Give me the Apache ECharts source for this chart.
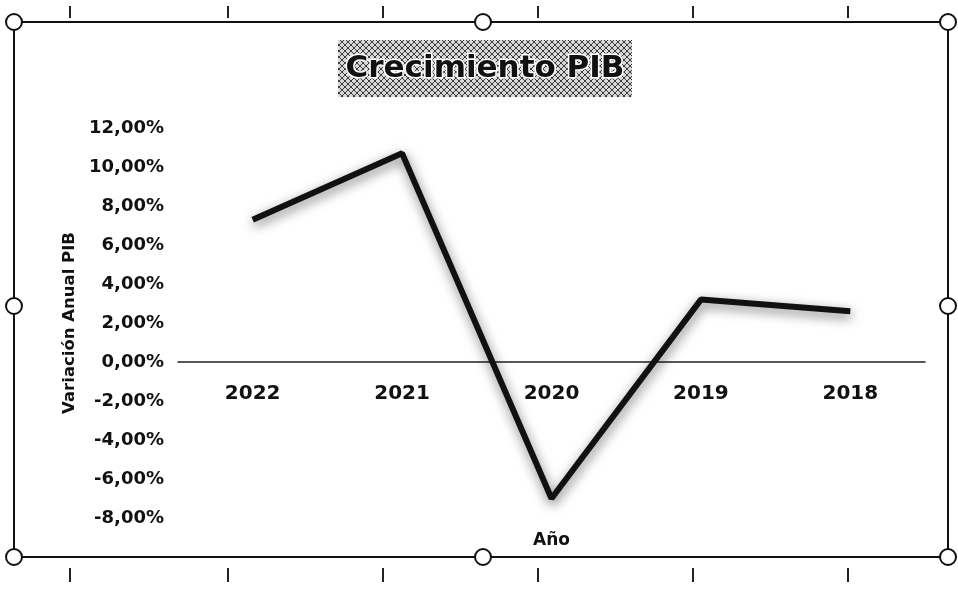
<!DOCTYPE html>
<html>
<head>
<meta charset="utf-8">
<script src="https://cdn.jsdelivr.net/npm/echarts@6/dist/echarts.min.js"></script>
<style>
html, body { margin: 0; padding: 0; background: #fff; }
#chart { width: 958px; height: 603px; }
</style>
</head>
<body>
<div id="chart"></div>
<script>
// datos
const years = ['2022', '2021', '2020', '2019', '2018'];
const growth = [7.3, 10.7, -7.0, 3.2, 2.6];
const yMin = -8, yMax = 12, yStep = 2;

const font = "'DejaVu Sans', sans-serif";

// geometría del área de trazado
const gridTop = 128, gridBottom = 85, chartH = 603;
const plotH = chartH - gridTop - gridBottom;
// desplazamiento del eje X para que quede sobre el cero (etiquetas incluidas)
const zeroOffset = -plotH * (0 - yMin) / (yMax - yMin);

// trama cuadriculada del título
function hatch() {
    const c = document.createElement('canvas');
    c.width = 6; c.height = 6;
    const g = c.getContext('2d');
    g.fillStyle = '#d8d8d8';
    g.fillRect(0, 0, 6, 6);
    g.strokeStyle = '#3a3a3a';
    g.lineWidth = 1;
    g.beginPath();
    g.moveTo(0, 0); g.lineTo(6, 6);
    g.moveTo(6, 0); g.lineTo(0, 6);
    g.stroke();
    return c;
}

const chart = echarts.init(document.getElementById('chart'));

// marco con tiradores (selección de Excel)
const handles = [[14, 22], [483, 22], [948, 22], [14, 306], [948, 306], [14, 557], [483, 557], [948, 557]];
const ticksX = [70, 228, 383, 538, 693, 848];
let frame = [
    { type: 'rect', shape: { x: 14, y: 22, width: 934, height: 535 }, style: { fill: 'none', stroke: '#111', lineWidth: 2 }, z: 1 }
];
ticksX.forEach(x => {
    frame.push({ type: 'line', shape: { x1: x, y1: 6, x2: x, y2: 18 }, style: { stroke: '#222', lineWidth: 2 } });
    frame.push({ type: 'line', shape: { x1: x, y1: 568, x2: x, y2: 582 }, style: { stroke: '#222', lineWidth: 2 } });
});
handles.forEach(p => {
    frame.push({ type: 'circle', shape: { cx: p[0], cy: p[1], r: 8 }, style: { fill: '#fff', stroke: '#111', lineWidth: 2 }, z: 10 });
});
frame.push({ type: 'rect', shape: { x: 338, y: 40, width: 294, height: 57 }, style: { fill: { image: hatch(), repeat: 'repeat' } }, z: 2 });
frame.push({
    type: 'text', x: 485, y: 69, z: 3,
    style: { text: 'Crecimiento PIB', fill: '#111', stroke: '#fff', lineWidth: 3, font: 'bold 31px ' + font, textAlign: 'center', textVerticalAlign: 'middle' }
});

const option = {
    backgroundColor: '#fff',
    graphic: frame,
    grid: { left: 178, right: 33, top: gridTop, bottom: gridBottom, containLabel: false, outerBoundsMode: 'none' },
    xAxis: {
        type: 'category',
        data: years,
        boundaryGap: true,
        offset: zeroOffset,
        name: 'Año',
        nameLocation: 'middle',
        nameGap: 170,
        nameTextStyle: { color: '#111', fontSize: 17, fontWeight: 'bold', fontFamily: font },
        axisLine: { onZero: false, lineStyle: { color: '#222', width: 1.5 } },
        axisTick: { show: false },
        axisLabel: { color: '#111', fontSize: 20, fontWeight: 'bold', fontFamily: font, margin: 22 }
    },
    yAxis: {
        type: 'value',
        min: yMin,
        max: yMax,
        interval: yStep,
        name: 'Variación Anual PIB',
        nameLocation: 'middle',
        nameGap: 95,
        nameTextStyle: { color: '#111', fontSize: 16.5, fontWeight: 'bold', fontFamily: font },
        axisLine: { show: false },
        axisTick: { show: false },
        splitLine: { show: false },
        axisLabel: {
            color: '#111', fontSize: 18, fontWeight: 'bold', fontFamily: font, margin: 14,
            formatter: v => v.toFixed(2).replace('.', ',') + '%'
        }
    },
    series: [{
        type: 'line',
        data: growth,
        symbol: 'none',
        lineStyle: {
            color: '#111',
            width: 6,
            shadowColor: 'rgba(0,0,0,0.55)',
            shadowBlur: 12,
            shadowOffsetX: 1,
            shadowOffsetY: 4
        }
    }]
};

chart.setOption(option);
</script>
</body>
</html>
